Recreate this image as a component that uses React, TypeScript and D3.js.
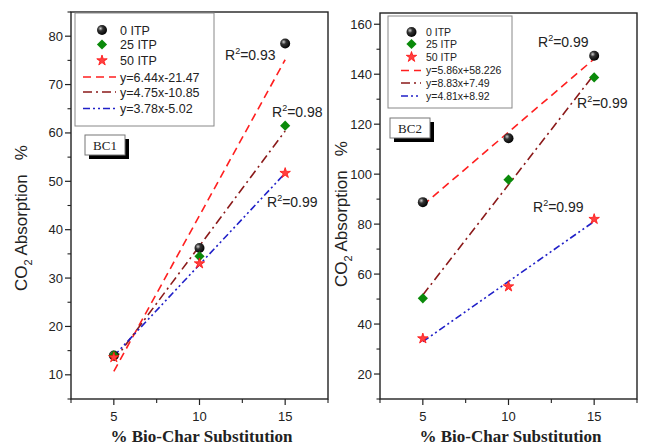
import React from "react";
import * as d3 from "d3";

// data
const X_VALUES = [5, 10, 15];
const SERIES_LABELS = ["0 ITP", "25 ITP", "50 ITP"];

const BC1_ITP0 = [14, 36.2, 78.5];
const BC1_ITP25 = [14, 34.5, 61.5];
const BC1_ITP50 = [13.6, 33, 51.7];
const BC1_FITS = [[6.44, -21.47], [4.75, -10.85], [3.78, -5.02]];
const BC1_FIT_LABELS = ["y=6.44x-21.47", "y=4.75x-10.85", "y=3.78x-5.02"];
const BC1_R2 = ["0.93", "0.98", "0.99"];
const BC1_Y_TICKS = [10, 20, 30, 40, 50, 60, 70, 80];

const BC2_ITP0 = [88.8, 114.4, 147.4];
const BC2_ITP25 = [50.3, 97.8, 138.7];
const BC2_ITP50 = [34.2, 55, 82];
const BC2_FITS = [[5.86, 58.226], [8.83, 7.49], [4.81, 8.92]];
const BC2_FIT_LABELS = ["y=5.86x+58.226", "y=8.83x+7.49", "y=4.81x+8.92"];
const BC2_R2 = ["0.99", "0.99", "0.99"];
const BC2_Y_TICKS = [20, 40, 60, 80, 100, 120, 140, 160];

const X_TICKS = [5, 10, 15];
const X_MINOR = [2.5, 7.5, 12.5, 17.5];

const LINE_COLORS = ["#ff1f1f", "#8b1a1a", "#2020c8"];
const LINE_DASH = ["8,5", "9,4,2,4", "7,3,2,3,2,3"];
const FONT = "Arial, 'Liberation Sans', sans-serif";
const SERIF = "'Times New Roman', 'Liberation Serif', serif";

const starPath = d3.symbol().type(d3.symbolStar).size(34)();
const diamondPath = d3.symbol().type(d3.symbolSquare).size(52)();

function Marker({ kind, x, y }) {
  if (kind === 0) return <circle cx={x} cy={y} r={5} fill="url(#sphere)" />;
  if (kind === 1) return <path d={diamondPath} transform={`translate(${x},${y}) rotate(45)`} fill="#0a8a0a" />;
  return <path d={starPath} transform={`translate(${x},${y})`} fill="#ff4040" stroke="#ff1010" strokeWidth={0.8} />;
}

function Panel({ cfg }) {
  const x = d3.scaleLinear().domain([2.5, 17.5]).range([cfg.left, cfg.right]);
  const y = d3.scaleLinear().domain(cfg.yDomain).range([cfg.bottom, cfg.top]);
  const minor = d3.range(cfg.yDomain[0], cfg.yDomain[1] + 0.01, cfg.minorStep).filter(v => !cfg.yTicks.includes(v));
  const lg = cfg.legend;

  return (
    <g>
      {/* fit lines */}
      {cfg.fits.map(([m, b], i) => {
        const line = d3.line<number>().x(v => x(v)).y(v => y(m * v + b));
        return <path key={i} d={line([5, 15]) || ""} fill="none" stroke={LINE_COLORS[i]} strokeWidth={1.6} strokeDasharray={LINE_DASH[i]} />;
      })}
      {/* markers */}
      {cfg.series.map((vals, s) =>
        vals.map((v, i) => <Marker key={`${s}-${i}`} kind={s} x={x(X_VALUES[i])} y={y(v)} />)
      )}
      {/* frame */}
      <rect x={cfg.left} y={cfg.top} width={cfg.right - cfg.left} height={cfg.bottom - cfg.top} fill="none" stroke="#222" strokeWidth={1.4} />
      {/* y axis */}
      {cfg.yTicks.map(t => (
        <g key={t}>
          <line x1={cfg.left - 6} x2={cfg.left} y1={y(t)} y2={y(t)} stroke="#222" strokeWidth={1.2} />
          <text x={cfg.left - 8} y={y(t) + 4.5} textAnchor="end" fontSize={13} fontFamily={FONT} fill="#222">{t}</text>
        </g>
      ))}
      {minor.map(t => (
        <line key={`m${t}`} x1={cfg.left - 3.5} x2={cfg.left} y1={y(t)} y2={y(t)} stroke="#222" strokeWidth={1.1} />
      ))}
      {/* x axis */}
      {X_TICKS.map(t => (
        <g key={t}>
          <line x1={x(t)} x2={x(t)} y1={cfg.bottom} y2={cfg.bottom + 6} stroke="#222" strokeWidth={1.2} />
          <text x={x(t)} y={cfg.bottom + 22} textAnchor="middle" fontSize={13} fontFamily={FONT} fill="#222">{t}</text>
        </g>
      ))}
      {X_MINOR.map(t => (
        <line key={`xm${t}`} x1={x(t)} x2={x(t)} y1={cfg.bottom} y2={cfg.bottom + 4} stroke="#222" strokeWidth={1.1} />
      ))}
      <text x={(cfg.left + cfg.right) / 2 + 2} y={442} textAnchor="middle" fontSize={17} fontWeight="bold" fontFamily={SERIF} fill="#222">
        % Bio-Char Substitution
      </text>
      <text transform={`translate(${cfg.ylabelX},${cfg.ylabelY}) rotate(-90)`} textAnchor="middle" fontSize={17} fontFamily={FONT} fill="#222" style={{ whiteSpace: "pre" }}>
        CO<tspan fontSize={11} dy={5}>2</tspan><tspan dy={-5}>{" Absorption   %"}</tspan>
      </text>
      {/* legend */}
      <rect x={lg.x} y={lg.y} width={lg.w} height={lg.h} fill="white" stroke="#888" strokeWidth={1} />
      {SERIES_LABELS.map((label, i) => (
        <g key={label}>
          <Marker kind={i} x={lg.symX} y={lg.rows[i]} />
          <text x={lg.textX} y={lg.rows[i] + lg.fs * 0.36} fontSize={lg.fs} fontFamily={FONT} fill="#222">{label}</text>
        </g>
      ))}
      {cfg.fitLabels.map((label, i) => (
        <g key={label}>
          <line x1={lg.lineX1} x2={lg.lineX2} y1={lg.rows[i + 3]} y2={lg.rows[i + 3]} stroke={LINE_COLORS[i]} strokeWidth={1.6} strokeDasharray={LINE_DASH[i]} />
          <text x={lg.textX} y={lg.rows[i + 3] + lg.fs * 0.36} fontSize={lg.fs} fontFamily={FONT} fill="#222">{label}</text>
        </g>
      ))}
      {/* BC tag */}
      <rect x={cfg.tag.x + 4} y={cfg.tag.y + 4} width={40} height={20} fill="#000" />
      <rect x={cfg.tag.x} y={cfg.tag.y} width={40} height={20} fill="white" stroke="#777" strokeWidth={1} />
      <text x={cfg.tag.x + 20} y={cfg.tag.y + 15} textAnchor="middle" fontSize={13} fontFamily={SERIF} fill="#222">{cfg.tag.label}</text>
      {/* R² labels */}
      {cfg.r2.map((r, i) => (
        <text key={i} x={cfg.r2Pos[i][0]} y={cfg.r2Pos[i][1]} fontSize={14} fontFamily={FONT} fill="#222">
          R<tspan fontSize={9} dy={-6}>2</tspan><tspan dy={6}>={r}</tspan>
        </text>
      ))}
    </g>
  );
}

const BC1_CFG = {
  left: 71, right: 328, top: 12, bottom: 399, yDomain: [5, 85], minorStep: 5, yTicks: BC1_Y_TICKS,
  series: [BC1_ITP0, BC1_ITP25, BC1_ITP50], fits: BC1_FITS, fitLabels: BC1_FIT_LABELS, r2: BC1_R2,
  r2Pos: [[225, 60], [272, 117], [267, 207]],
  ylabelX: 27, ylabelY: 218,
  legend: { x: 75, y: 13, w: 139, h: 113, symX: 102, textX: 120, lineX1: 83, lineX2: 116, fs: 12.5, rows: [30, 44.5, 60.5, 77, 92, 108.5] },
  tag: { x: 85, y: 135, label: "BC1" },
};

const BC2_CFG = {
  left: 380, right: 637, top: 13, bottom: 399, yDomain: [10, 164.5], minorStep: 10, yTicks: BC2_Y_TICKS,
  series: [BC2_ITP0, BC2_ITP25, BC2_ITP50], fits: BC2_FITS, fitLabels: BC2_FIT_LABELS, r2: BC2_R2,
  r2Pos: [[538, 47], [577, 108], [533, 212]],
  ylabelX: 347, ylabelY: 214,
  legend: { x: 388, y: 16, w: 124, h: 92, symX: 411.5, textX: 426, lineX1: 401, lineX2: 421, fs: 10.5, rows: [32, 44, 57, 70.5, 83, 96] },
  tag: { x: 390, y: 118, label: "BC2" },
};

export default function App() {
  return (
    <svg width={649} height={448} style={{ position: "absolute", left: 0, top: 0, background: "white" }}>
      <defs>
        <radialGradient id="sphere" cx="0.35" cy="0.35" r="0.7">
          <stop offset="0" stopColor="#cfcfcf" />
          <stop offset="0.35" stopColor="#333" />
          <stop offset="1" stopColor="#000" />
        </radialGradient>
      </defs>
      <Panel cfg={BC1_CFG} />
      <Panel cfg={BC2_CFG} />
    </svg>
  );
}
